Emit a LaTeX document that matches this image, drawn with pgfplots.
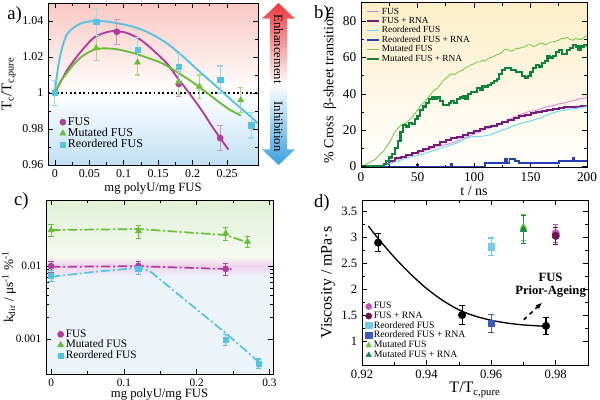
\documentclass[border=0pt]{standalone}
\usepackage{fontspec}
\setmainfont{Liberation Serif}
\usepackage{pgfplots}
\pgfplotsset{compat=1.18}
\usetikzlibrary{arrows.meta}
\newcommand\fs[1]{\fontsize{#1}{#1}\selectfont}
\definecolor{cFUS}{RGB}{178,60,155}
\definecolor{cMut}{RGB}{105,190,55}
\definecolor{cReo}{RGB}{85,195,225}
\definecolor{bFUS}{RGB}{228,140,210}
\definecolor{bFUSR}{RGB}{120,25,125}
\definecolor{bReo}{RGB}{110,215,240}
\definecolor{bReoR}{RGB}{35,65,180}
\definecolor{bMut}{RGB}{125,205,85}
\definecolor{bMutR}{RGB}{15,130,60}
\definecolor{dFUS}{RGB}{195,85,175}
\definecolor{dFUSR}{RGB}{105,20,80}
\definecolor{dReo}{RGB}{110,205,230}
\definecolor{dReoR}{RGB}{60,90,185}
\definecolor{dMut}{RGB}{110,200,60}
\definecolor{dMutR}{RGB}{25,135,65}
\definecolor{aTop}{RGB}{249,200,194}
\definecolor{aBot}{RGB}{192,224,244}
\definecolor{bTop}{RGB}{252,238,200}
\definecolor{cGreen}{RGB}{226,240,214}
\definecolor{cPink}{RGB}{240,212,236}
\definecolor{cBlue}{RGB}{236,244,250}
\definecolor{arRed}{RGB}{235,55,60}
\definecolor{arBlue}{RGB}{55,160,225}
\pgfplotsset{
 common/.style={scale only axis, axis on top, anchor=south west,
   axis line style={line width=0.7pt},
   tick style={black, line width=0.5pt},
   major tick length=3.5pt, minor tick length=2pt,
   tick align=inside,
   /pgf/number format/assume math mode=true,
   legend cell align=left,
   legend style={draw=none, fill=none, anchor=north west, inner sep=0pt, row sep=0pt,
     nodes={inner xsep=1.5pt, inner ysep=0.4pt}},
 },
 ebar/.style={error bars/.cd, y dir=both, y explicit,
   error bar style={#1, line width=0.8pt},
   error mark options={rotate=90, mark size=2pt, #1, line width=0.8pt}},
 dashdot/.style={line width=1.3pt, dash pattern=on 7pt off 2pt on 1.5pt off 2pt},
}
\begin{document}
\begin{tikzpicture}
\useasboundingbox (0,0) rectangle (450pt,300pt);
% ---------------- panel a
\begin{axis}[common, at={(36pt,176.25pt)}, width=157.5pt, height=121.5pt,
 xmin=-0.01, xmax=0.295, ymin=0.96, ymax=1.05,
 xtick={0,0.05,0.1,0.15,0.2,0.25}, xticklabels={0,0.05,0.1,0.15,0.2,0.25},
 ytick={0.96,0.98,1,1.02,1.04}, yticklabels={0.96,0.98,1,1.02,1.04},
 minor x tick num=1, minor y tick num=1,
 tick label style={font=\fs{9}},
 xlabel={mg polyU/mg FUS}, ylabel={T\textsubscript{c}/T\textsubscript{c,pure}},
 xlabel style={font=\fs{9.5}, yshift=3pt}, ylabel style={font=\fs{11}, yshift=-2pt},
 legend style={at={(0.055,0.30)}, font=\fs{9}}]
\shade[top color=aTop, bottom color=white] (axis cs:-0.01,1) rectangle (axis cs:0.295,1.05);
\shade[top color=white, bottom color=aBot] (axis cs:-0.01,0.96) rectangle (axis cs:0.295,1);
\draw[black, dotted, line width=1.3pt] (axis cs:-0.01,1) -- (axis cs:0.295,1);
\addplot[forget plot, cFUS, line width=1.4pt, smooth] coordinates {
(0,1.0) (0.008,1.006) (0.0175,1.0125) (0.0275,1.018) (0.04,1.024) (0.0565,1.0307) (0.075,1.0338) (0.088,1.0344) (0.105,1.0333) (0.124,1.0297) (0.143,1.0237) (0.163,1.0163) (0.177,1.0090) (0.1916,1.0017) (0.211,0.9916) (0.230,0.9805) (0.252,0.9686)};
\addplot[forget plot, cMut, line width=1.4pt, smooth] coordinates {
(0,1.0) (0.008,1.0062) (0.018,1.0114) (0.0275,1.016) (0.04,1.0205) (0.0565,1.024) (0.07,1.0248) (0.09,1.0243) (0.114,1.0222) (0.135,1.0195) (0.153,1.0170) (0.17,1.0135) (0.185,1.0098) (0.2,1.006) (0.22,1.0003) (0.24,0.9945) (0.255,0.9905) (0.27,0.9875)};
\addplot[forget plot, cReo, line width=1.4pt, smooth] coordinates {
(0,1.0) (0.003,1.01) (0.0083,1.0217) (0.018,1.0329) (0.037,1.0385) (0.0565,1.0400) (0.075,1.0397) (0.09,1.0388) (0.114,1.0368) (0.1385,1.0331) (0.163,1.0275) (0.187,1.0200) (0.211,1.0116) (0.235,1.0035) (0.259,0.9952) (0.283,0.9873) (0.295,0.9830)};
\addplot[only marks, mark=*, mark size=2.3pt, color=cFUS, ebar=cFUS!55] table[x=x,y=y,y error=e] {
x y e
0 1 0.007
0.09 1.034 0.007
0.18 1.005 0.007
0.24 0.975 0.007
};
\addlegendentry{FUS}
\addplot[only marks, mark=triangle*, mark size=2.6pt, color=cMut, ebar=cMut!60] table[x=x,y=y,y error=e] {
x y e
0 1 0.007
0.06 1.025 0.007
0.12 1.017 0.007
0.18 1.006 0.007
0.21 1.0035 0.0065
0.27 0.996 0.007
};
\addlegendentry{Mutated FUS}
\addplot[only marks, mark=square*, mark size=2pt, color=cReo, ebar=cReo!60] table[x=x,y=y,y error=e] {
x y e
0 1 0.007
0.06 1.0395 0.0075
0.12 1.024 0.007
0.18 1.0145 0.0075
0.24 1.0075 0.0075
0.285 0.982 0.007
};
\addlegendentry{Reordered FUS}
\end{axis}
% arrow
\shade[top color=arRed, bottom color=arBlue, middle color=white]
 (208.9pt,297.75pt) -- (221.25pt,286pt) -- (215.4pt,286pt) -- (215.4pt,188pt) -- (221.25pt,188pt) -- (208.9pt,176.25pt) -- (196.5pt,188pt) -- (202.4pt,188pt) -- (202.4pt,286pt) -- (196.5pt,286pt) -- cycle;
\node[rotate=-90, font=\fs{9.5}] at (208.9pt,263pt) {Enhancement};
\node[rotate=-90, font=\fs{9.5}] at (208.9pt,205pt) {Inhibition};
% ---------------- panel b
\begin{axis}[common, at={(270.75pt,174.4pt)}, width=169.5pt, height=123.4pt,
 xmin=0, xmax=200, ymin=-0.5, ymax=90,
 xtick={0,50,100,150,200}, xticklabels={0,50,100,150,200},
 ytick={0,20,40,60,80}, yticklabels={0,20,40,60,80},
 minor x tick num=1, minor y tick num=1,
 tick label style={font=\fs{10}},
 xlabel={t / ns}, ylabel={\% Cross\ \ β-sheet transitions},
 xlabel style={font=\fs{10.5}, yshift=3pt}, ylabel style={font=\fs{10.5}, yshift=-2pt},
 legend style={at={(0.02,0.975)}, font=\fs{7}},
 legend image code/.code={\draw[#1] (0pt,0pt) -- (9pt,0pt);}]
\shade[top color=bTop, bottom color=white] (axis cs:0,-0.5) rectangle (axis cs:200,90);
\addplot[bFUS, line width=0.7pt] coordinates {
(0,0) (5,0) (10,0.3) (15,0.5) (20,1) (25,2) (30,3.5) (35,4.5) (40,5.5) (45,6.5) (50,7.5) (55,8.5) (60,9.5) (65,10.5) (70,11.5) (75,12) (80,13) (85,14) (90,15.5) (95,16.5) (100,18) (105,19) (110,20.5) (115,21.5) (120,23) (125,24) (130,25.5) (135,27) (140,28.5) (145,29.5) (150,30.5) (155,31) (160,32) (165,33) (170,33.5) (175,34.5) (180,35) (185,36) (190,36.5) (195,37.5) (200,38)};
\addlegendentry{FUS}
\addplot[bFUSR, line width=1.5pt, const plot] coordinates {
(0,0) (10,0) (15,0.5) (20,1.5) (25,3) (30,4.5) (35,5.5) (40,6.5) (45,7.5) (50,8.5) (55,9.5) (60,10.5) (65,12) (70,13.5) (75,14.5) (80,15.5) (85,16.5) (90,17.5) (95,18.5) (100,19.5) (105,20.5) (110,21.5) (115,22.5) (120,23.5) (125,24.5) (130,25.5) (135,26.5) (140,28) (145,28.5) (150,29.5) (155,30) (160,30.5) (165,31) (170,31.5) (175,32) (180,32.5) (185,32.5) (190,33) (195,33.5) (200,34)};
\addlegendentry{FUS + RNA}
\addplot[bReo, line width=0.7pt] coordinates {
(0,0) (15,0) (20,0.5) (25,1.5) (30,2.5) (35,3.5) (40,4.5) (45,5.5) (50,6) (55,7) (60,8) (65,9) (70,10) (75,11) (80,12) (85,13) (90,14.5) (95,16) (100,16.5) (105,16.5) (110,17) (115,17.5) (120,19) (125,20) (130,21) (135,22.5) (140,23.5) (145,24.5) (150,25) (155,26) (160,27) (165,28.5) (170,29.5) (175,30.5) (180,31) (185,31.5) (190,32) (195,32.5) (200,33)};
\addlegendentry{Reordered FUS}
\addplot[bReoR, line width=1.3pt, const plot] coordinates {
(0,0) (49,0) (49.5,1) (50.5,0) (79,0) (79.5,1.5) (80.5,0) (109,0) (110,2) (127,2) (127.5,4) (129,4) (129.5,2) (131,2) (131.5,4) (136,4) (136.5,3) (139,3) (140,2) (175,2) (175.5,3) (187,3) (187.5,5) (188.5,5) (189,3) (200,3)};
\addlegendentry{Reordered FUS + RNA}
\addplot[bMut, line width=0.7pt] coordinates {
(0,0) (2.5,0.5) (5,1.5) (7.5,2) (10,3.2) (12.5,4) (15,5.5) (17.5,7) (20,8.5) (22.5,11) (25,13) (27.5,16) (30,19) (32.5,21) (35,22.5) (37.5,23.5) (40,24) (42.5,25.5) (45,27) (47.5,29) (50,31) (52.5,33.5) (55,35) (57.5,36.5) (60,38.5) (62.5,40.5) (65,42) (67.5,43) (70,45) (72.5,47) (75,48.5) (77.5,50) (80,51) (82.5,50.5) (85,51.5) (87.5,52.5) (90,53) (92.5,54.5) (95,55) (97.5,56) (100,56.5) (102.5,57.5) (105,57.5) (107.5,58.5) (110,58) (112.5,59.5) (115,60) (117.5,60.5) (120,61.5) (122.5,62) (125,63) (127.5,64.5) (130,64.5) (132.5,63.5) (135,64) (137.5,65) (140,65) (142.5,65.5) (145,66) (147.5,67) (150,67) (152.5,66) (155,66.5) (157.5,67.5) (160,68) (162.5,67) (165,67.5) (167.5,68.5) (170,68.5) (172.5,69) (175,69.5) (177.5,70.5) (180,70.5) (182.5,71) (185,70) (187.5,69.5) (190,70.5) (192.5,70) (195,70) (197.5,71) (200,72)};
\addlegendentry{Mutated FUS}
\addplot[bMutR, line width=1.6pt, const plot] coordinates {
(0,0) (15,0) (17.5,0.5) (20,1.5) (22.5,3) (25,5) (27.5,7) (30,10) (32.5,14) (35,19) (37.5,23) (40,22) (42.5,24) (45,23.5) (47.5,26) (50,28) (52.5,31) (55,33) (57.5,35) (60,37) (62.5,38) (65,37) (67.5,38) (70,36) (72.5,34) (75,34) (77.5,35) (80,36) (82.5,35) (85,37) (87.5,38) (90,39) (92.5,37) (95,40) (97.5,41) (100,41) (102.5,43) (105,42) (107.5,44) (110,44) (112.5,45) (115,46) (117.5,47) (120,48) (122.5,51) (125,53) (127.5,54) (130,54) (132.5,53) (135,53) (137.5,52) (140,52) (142.5,50) (145,49) (147.5,50) (150,52) (152.5,54) (155,56) (157.5,55) (160,57) (162.5,58) (165,61) (167.5,60) (170,61) (172.5,63) (175,64) (177.5,62) (180,62) (182.5,64) (185,65) (187.5,67) (190,66) (192.5,64) (195,66) (197.5,67) (200,66)};
\addlegendentry{Mutated FUS + RNA}
\end{axis}
% ---------------- panel c
\begin{axis}[common, at={(34.5pt,19.5pt)}, width=170.25pt, height=130.5pt,
 xmin=-0.007, xmax=0.305, ymode=log, ymin=3.3e-4, ymax=0.08,
 xtick={0,0.1,0.2,0.3}, xticklabels={0,0.1,0.2,0.3}, minor x tick num=1,
 ytick={0.001,0.01}, yticklabels={0.001,0.01},
 tick label style={font=\fs{8.5}},
 xlabel={mg polyU/mg FUS}, ylabel={k\textsubscript{dir} / μs\textsuperscript{-1} \%\textsuperscript{-1}},
 xlabel style={font=\fs{9.5}, yshift=5pt}, ylabel style={font=\fs{10}, yshift=-7pt},
 legend style={at={(0.05,0.26)}, font=\fs{8.5}}]
\shade[top color=cGreen, bottom color=cGreen!35!white] (axis cs:-0.007,0.0135) rectangle (axis cs:0.305,0.08);
\shade[top color=cGreen!35!white, bottom color=cPink] (axis cs:-0.007,0.01) rectangle (axis cs:0.305,0.0135);
\shade[top color=cPink, bottom color=cBlue] (axis cs:-0.007,0.007) rectangle (axis cs:0.305,0.01);
\fill[cBlue] (axis cs:-0.007,3.3e-4) rectangle (axis cs:0.305,0.007);
\addplot[forget plot, cFUS, dashdot] coordinates {(0,0.0097) (0.12,0.0099) (0.25,0.0090)};
\addplot[forget plot, cMut, dashdot] coordinates {(0,0.031) (0.12,0.032) (0.24,0.0265) (0.27,0.021)};
\addplot[forget plot, cReo, dashdot] coordinates {(0,0.0071) (0.06,0.0083) (0.12,0.0094) (0.135,0.0086) (0.24,0.0012) (0.29,0.00044)};
\addplot[only marks, mark=*, mark size=2.3pt, color=cFUS, ebar=cFUS] table[x=x,y=y,y error=e] {
x y e
0 0.0099 0.0017
0.12 0.0099 0.0015
0.24 0.0091 0.0017
};
\addlegendentry{FUS}
\addplot[only marks, mark=triangle*, mark size=2.6pt, color=cMut, ebar=cMut] table[x=x,y=y,y error=e] {
x y e
0 0.031 0.006
0.12 0.030 0.006
0.24 0.028 0.006
0.27 0.0215 0.0035
};
\addlegendentry{Mutated FUS}
\addplot[only marks, mark=square*, mark size=2pt, color=cReo, ebar=cReo] table[x=x,y=y,y error=e] {
x y e
0 0.0074 0.0012
0.12 0.0092 0.0015
0.24 0.00098 0.00018
0.285 0.00046 0.00007
};
\addlegendentry{Reordered FUS}
\end{axis}
% ---------------- panel d
\begin{axis}[common, at={(271.5pt,26.25pt)}, width=169.5pt, height=123.75pt,
 xmin=0.92, xmax=0.99, ymin=0.55, ymax=3.72,
 xtick={0.92,0.94,0.96,0.98}, xticklabels={0.92,0.94,0.96,0.98}, minor x tick num=1,
 ytick={1,1.5,2,2.5,3,3.5}, yticklabels={1,1.5,2,2.5,3,3.5}, minor y tick num=1,
 tick label style={font=\fs{9.5}},
 xlabel={T/T\textsubscript{c,pure}}, ylabel={Viscosity / mPa·s},
 xlabel style={font=\fs{12}, yshift=4pt}, ylabel style={font=\fs{12}, yshift=-2pt},
 legend style={at={(0.015,0.385)}, font=\fs{7.3}},
 legend image post style={mark size=2.3pt}]
\addplot[forget plot, black, line width=1pt, smooth] coordinates {
(0.922,3.22) (0.925,2.98) (0.93,2.62) (0.935,2.30) (0.94,2.02) (0.945,1.79) (0.95,1.61) (0.955,1.49) (0.96,1.41) (0.965,1.355) (0.97,1.32) (0.975,1.30) (0.977,1.29)};
\addplot[forget plot, only marks, mark=*, mark size=2.8pt, black, ebar=black] table[x=x,y=y,y error=e] {
x y e
0.925 2.90 0.17
0.951 1.51 0.18
0.977 1.30 0.17
};
\addplot[only marks, mark=*, mark size=2.8pt, color=dFUS, ebar=dFUS] table[x=x,y=y,y error=e] {
x y e
0.98 3.08 0.17
};
\addlegendentry{FUS}
\addplot[only marks, mark=*, mark size=2.8pt, color=dFUSR, ebar=dFUSR] table[x=x,y=y,y error=e] {
x y e
0.98 3.03 0.17
};
\addlegendentry{FUS + RNA}
\addplot[only marks, mark=square*, mark size=2.5pt, color=dReo, ebar=dReo] table[x=x,y=y,y error=e] {
x y e
0.96 2.82 0.17
};
\addlegendentry{Reordered FUS}
\addplot[only marks, mark=square*, mark size=2.5pt, color=dReoR, ebar=dReoR] table[x=x,y=y,y error=e] {
x y e
0.96 1.35 0.17
};
\addlegendentry{Reordered FUS + RNA}
\addplot[only marks, mark=triangle*, mark size=3pt, color=dMut, ebar=dMut] table[x=x,y=y,y error=e] {
x y e
0.97 3.20 0.25
};
\addlegendentry{Mutated FUS}
\addplot[only marks, mark=triangle*, mark size=3pt, color=dMutR, ebar=dMutR] table[x=x,y=y,y error=e] {
x y e
0.97 3.15 0.27
};
\addlegendentry{Mutated FUS + RNA}
\draw[black, line width=1.2pt, dashed, -{Latex[length=5pt,width=4pt]}] (axis cs:0.9701,1.42) -- (axis cs:0.9758,1.75);
\node[font=\bfseries\fs{9.5}, align=center] at (axis cs:0.9784,2.08) {FUS\\Prior-Ageing};
\end{axis}
% panel letters
\node[anchor=west, font=\fs{14}] at (2pt,288.5pt) {a)};
\node[anchor=west, font=\fs{14}] at (232pt,289.5pt) {b)};
\node[anchor=west, font=\fs{14}] at (7pt,149pt) {c)};
\node[anchor=west, font=\fs{14}] at (232pt,147.75pt) {d)};
\end{tikzpicture}
\end{document}
